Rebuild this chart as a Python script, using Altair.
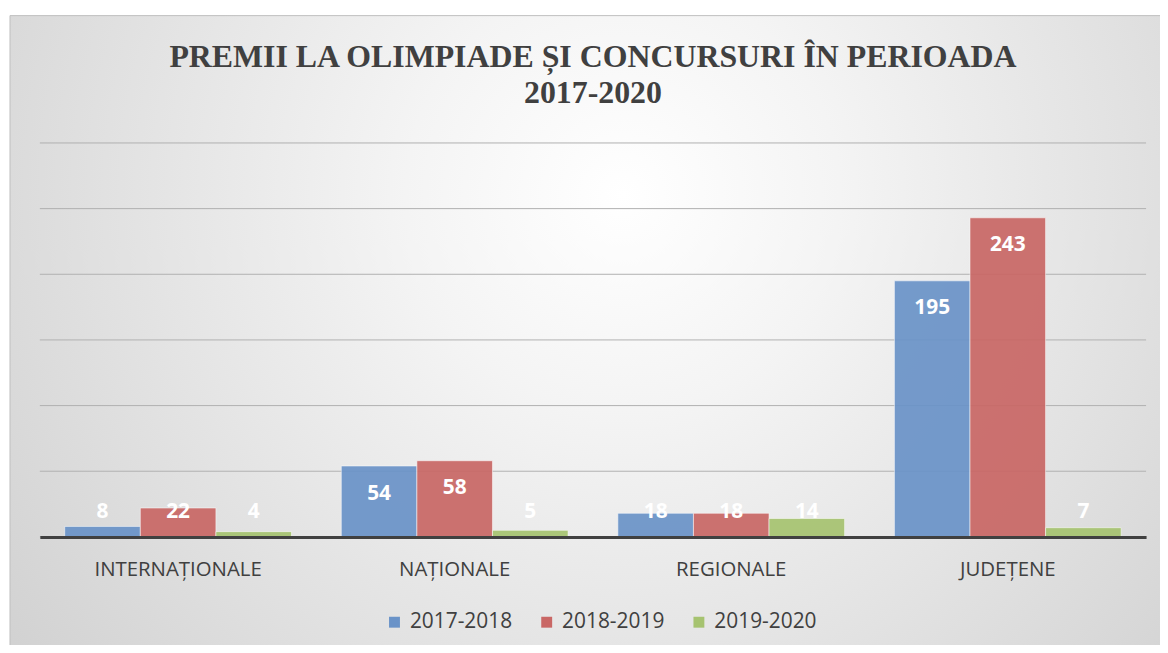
import altair as alt
import pandas as pd

categories = ["INTERNAȚIONALE", "NAȚIONALE", "REGIONALE", "JUDEȚENE"]
series = ["2017-2018", "2018-2019", "2019-2020"]
v_2017_2018 = [8, 54, 18, 195]
v_2018_2019 = [22, 58, 18, 243]
v_2019_2020 = [4, 5, 14, 7]
grid_ticks = [0, 50, 100, 150, 200, 250, 300]
colors = ["#6a93c8", "#c96765", "#a6c370"]

rows = []
for s, vals in zip(series, [v_2017_2018, v_2018_2019, v_2019_2020]):
    for c, v in zip(categories, vals):
        rows.append({"cat": c, "series": s, "value": v})
df = pd.DataFrame(rows)
grid_df = pd.DataFrame({"tick": grid_ticks})
bg_df = pd.DataFrame({"a": [0]})

W, H = 1112, 396

y_scale = alt.Scale(domain=[0, 300], nice=False)
x_enc = alt.X(
    "cat:N", sort=categories, title=None,
    scale=alt.Scale(paddingInner=0.18, paddingOuter=0.09),
    axis=alt.Axis(
        zindex=1, domainColor="#404040", domainWidth=3, ticks=False,
        labelFont="Open Sans", labelFontSize=20.5, labelColor="#404040",
        labelPadding=23, labelAngle=0, grid=False,
    ),
)
xoff = alt.XOffset("series:N", sort=series, scale=alt.Scale(paddingInner=0, paddingOuter=0))

bg = alt.Chart(bg_df).mark_rect(
    fill=alt.RadialGradient(
        gradient="radial",
        x1=0.53, y1=0.38, r1=0.0, x2=0.53, y2=0.38, r2=0.75,
        stops=[alt.GradientStop(color="#ffffff", offset=0),
               alt.GradientStop(color="#f4f4f4", offset=0.25),
               alt.GradientStop(color="#cbcbcb", offset=1)],
    ),
    stroke="#c0c0c0", strokeWidth=1,
).encode(
    x=alt.value(-30), x2=alt.value(W + 20),
    y=alt.value(-128), y2=alt.value(H + 114),
)

grid = alt.Chart(grid_df).mark_rule(color="#b0b0b0", strokeWidth=1).encode(
    y=alt.Y("tick:Q", scale=y_scale, axis=None),
    x=alt.value(0), x2=alt.value(W),
)

bars = alt.Chart(df).mark_bar(
    opacity=0.92, stroke="#ffffff", strokeOpacity=0.55, strokeWidth=1
).encode(
    x=x_enc,
    xOffset=xoff,
    y=alt.Y("value:Q", scale=y_scale, axis=None),
    color=alt.Color(
        "series:N", sort=series,
        scale=alt.Scale(domain=series, range=colors),
        legend=alt.Legend(
            orient="none", legendX=346, legendY=471, direction="horizontal",
            title=None, symbolType="square", symbolSize=120,
            symbolStrokeWidth=0, symbolOpacity=1,
            labelFont="Open Sans", labelFontSize=21, labelColor="#404040",
            columnPadding=24, labelOffset=5,
        ),
    ),
)

labels = alt.Chart(df).transform_calculate(
    labelpos="max(datum.value - 21, 19)"
).mark_text(
    color="white", font="Open Sans", fontWeight="bold", fontSize=21, baseline="middle"
).encode(
    x=x_enc,
    xOffset=xoff,
    y=alt.Y("labelpos:Q", scale=y_scale, axis=None),
    text=alt.Text("value:Q"),
)

chart = alt.layer(bg, grid, bars, labels).properties(
    width=W, height=H,
    autosize=alt.AutoSizeParams(type="none"),
    padding={"left": 32, "top": 134, "right": 14, "bottom": 107},
    background="white",
    title=alt.TitleParams(
        ["PREMII LA OLIMPIADE ȘI CONCURSURI ÎN PERIOADA", "2017-2020"],
        font="Liberation Serif", fontSize=32, fontWeight="bold", color="#404040",
        anchor="middle", offset=36, lineHeight=36, zindex=2, frame="group",
        dy=131,
    ),
).configure_view(stroke=None)

chart.save("out.html", embed_options={"renderer": "svg", "actions": False})
